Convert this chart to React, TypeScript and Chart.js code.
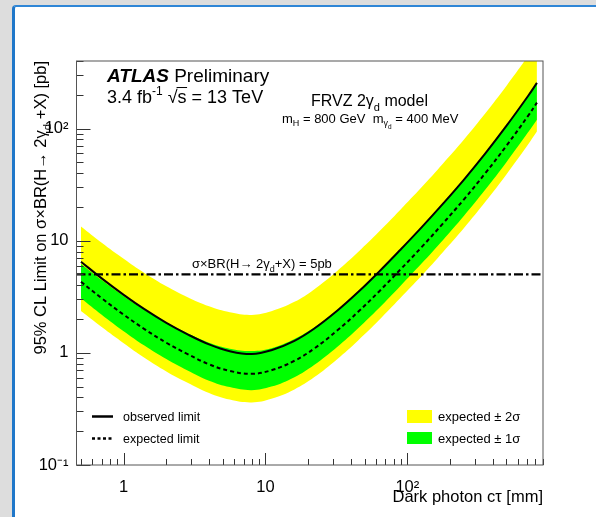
import React, { useEffect, useRef } from "react";
import { Chart, registerables } from "chart.js";
Chart.register(...registerables);

// ---- data ----
const ctau = [0.5, 0.7, 1, 1.4, 2, 2.8, 4, 5.6, 8, 11, 16, 22, 32, 45, 63, 89, 126, 178, 251, 355, 501, 708, 820];
const observed = [6.5, 4.61, 3.29, 2.45, 1.85, 1.47, 1.19, 1.035, 0.975, 1.055, 1.28, 1.64, 2.37, 3.48, 5.27, 8.26, 13.15, 21.3, 35.1, 60.0, 106, 194, 255];
const expected = [4.3, 3.07, 2.19, 1.63, 1.23, 0.98, 0.79, 0.69, 0.65, 0.7, 0.85, 1.09, 1.58, 2.32, 3.51, 5.5, 8.75, 14.2, 23.4, 40, 70.5, 129, 170];
const sigma1Low = [3.07, 2.19, 1.56, 1.16, 0.88, 0.7, 0.565, 0.495, 0.465, 0.5, 0.607, 0.78, 1.13, 1.66, 2.5, 3.93, 6.25, 10.1, 16.7, 28.6, 50.4, 92, 120];
const sigma1High = [6.2, 4.45, 3.2, 2.42, 1.86, 1.5, 1.23, 1.09, 1.04, 1.1, 1.33, 1.68, 2.4, 3.5, 5.3, 8.3, 13.2, 21.4, 35.2, 60.2, 106, 194, 256];
const sigma2Low = [2.36, 1.7, 1.22, 0.905, 0.683, 0.544, 0.439, 0.383, 0.361, 0.389, 0.472, 0.605, 0.878, 1.29, 1.95, 3.06, 4.86, 7.9, 13, 22.2, 39.2, 71.7, 94];
const sigma2High = [13.4, 9.6, 6.9, 5.15, 3.92, 3.15, 2.6, 2.3, 2.18, 2.35, 2.85, 3.68, 5.38, 7.93, 12, 18.8, 29.9, 48.6, 80, 137, 241, 441, 580];
const refXsec = 5; // pb

const xRange = [0.465, 905];
const yRange = [0.1, 400];
const xTicks = [0.5, 0.6, 0.7, 0.8, 0.9, 1, 2, 3, 4, 5, 6, 7, 8, 9, 10, 20, 30, 40, 50, 60, 70, 80, 90, 100, 200, 300, 400, 500, 600, 700, 800, 900];
const yTicks = [0.1, 0.2, 0.3, 0.4, 0.5, 0.6, 0.7, 0.8, 0.9, 1, 2, 3, 4, 5, 6, 7, 8, 9, 10, 20, 30, 40, 50, 60, 70, 80, 90, 100, 200, 300, 400];
const xMajor = [1, 10, 100];
const xMajorLabels = ["1", "10", "10\u00B2"];
const yMajor = [0.1, 1, 10, 100];
const yMajorLabels = ["10\u207B\u00B9", "1", "10", "10\u00B2"];

const FAMILY = '"Liberation Sans", Arial, Helvetica, sans-serif';
const YELLOW = "#ffff00";
const GREEN = "#00ff00";

const near = (a: number, b: number) => Math.abs(Math.log10(a) - Math.log10(b)) < 1e-6;
const majorIndex = (v: number, list: number[]) => list.findIndex((m) => near(m, v));
const pts = (ys: number[]) => ctau.map((x, i) => ({ x, y: ys[i] }));

type Part = { t: string; size: number; dy?: number; weight?: string; style?: string; overline?: boolean };

function drawParts(ctx: CanvasRenderingContext2D, parts: Part[], x: number, y: number, align: "left" | "right" | "center") {
  const fontOf = (p: Part) => `${p.style || "normal"} ${p.weight || "normal"} ${p.size}px ${FAMILY}`;
  const widths = parts.map((p) => {
    ctx.font = fontOf(p);
    return ctx.measureText(p.t).width;
  });
  const total = widths.reduce((a, b) => a + b, 0);
  let cx = align === "left" ? x : align === "right" ? x - total : x - total / 2;
  ctx.textAlign = "left";
  ctx.textBaseline = "alphabetic";
  parts.forEach((p, i) => {
    ctx.font = fontOf(p);
    ctx.fillText(p.t, cx, y + (p.dy || 0));
    if (p.overline) {
      ctx.save();
      ctx.lineWidth = 1;
      ctx.beginPath();
      const oy = y + (p.dy || 0) - p.size * 0.86;
      ctx.moveTo(cx - 1, oy);
      ctx.lineTo(cx + widths[i] + 0.5, oy);
      ctx.stroke();
      ctx.restore();
    }
    cx += widths[i];
  });
}

const decor = {
  id: "decor",
  afterDraw(chart: any) {
    const { ctx, chartArea } = chart;
    const { left, right, top, bottom } = chartArea;
    const xs = chart.scales.x;
    const ys = chart.scales.y;
    ctx.save();
    // ticks
    ctx.strokeStyle = "#333";
    ctx.lineWidth = 1;
    ctx.beginPath();
    xs.ticks.forEach((t: any) => {
      const px = Math.round(xs.getPixelForValue(t.value)) + 0.5;
      const len = majorIndex(t.value, xMajor) >= 0 ? 12 : 6;
      ctx.moveTo(px, bottom);
      ctx.lineTo(px, bottom - len);
    });
    ys.ticks.forEach((t: any) => {
      const py = Math.round(ys.getPixelForValue(t.value)) + 0.5;
      const len = majorIndex(t.value, yMajor) >= 0 ? 14 : 7;
      ctx.moveTo(left, py);
      ctx.lineTo(left + len, py);
    });
    ctx.stroke();
    // frame
    ctx.strokeStyle = "#555";
    ctx.strokeRect(left, top, right - left, bottom - top);

    ctx.fillStyle = "#000";
    ctx.strokeStyle = "#000";
    // axis titles
    drawParts(ctx, [{ t: "Dark photon c\u03C4 [mm]", size: 16.5 }], right, 502, "right");
    ctx.save();
    ctx.translate(45.5, top);
    ctx.rotate(-Math.PI / 2);
    drawParts(
      ctx,
      [
        { t: "95% CL Limit on \u03C3\u00D7BR(H\u2192 2\u03B3", size: 16.5 },
        { t: "d", size: 11.5, dy: 5 },
        { t: " +X) [pb]", size: 16.5 },
      ],
      0,
      0,
      "right"
    );
    ctx.restore();

    // ATLAS labels
    drawParts(
      ctx,
      [
        { t: "ATLAS", size: 19, weight: "bold", style: "italic" },
        { t: " Preliminary", size: 19 },
      ],
      107,
      82,
      "left"
    );
    drawParts(
      ctx,
      [
        { t: "3.4 fb", size: 18 },
        { t: "-1", size: 12, dy: -8 },
        { t: " \u221A", size: 18 },
        { t: "s", size: 18, overline: true },
        { t: " = 13 TeV", size: 18 },
      ],
      107,
      103,
      "left"
    );
    drawParts(
      ctx,
      [
        { t: "FRVZ 2\u03B3", size: 16 },
        { t: "d", size: 11, dy: 5 },
        { t: " model", size: 16 },
      ],
      311,
      106,
      "left"
    );
    drawParts(
      ctx,
      [
        { t: "m", size: 13 },
        { t: "H", size: 9, dy: 3 },
        { t: " = 800 GeV  m", size: 13 },
        { t: "\u03B3", size: 9, dy: 3 },
        { t: "d", size: 6.5, dy: 6 },
        { t: " = 400 MeV", size: 13 },
      ],
      282,
      123,
      "left"
    );
    drawParts(
      ctx,
      [
        { t: "\u03C3\u00D7BR(H\u2192 2\u03B3", size: 13 },
        { t: "d", size: 9, dy: 4 },
        { t: "+X) = 5pb", size: 13 },
      ],
      192,
      268,
      "left"
    );

    // legend
    ctx.lineWidth = 2.5;
    ctx.beginPath();
    ctx.moveTo(92, 416.5);
    ctx.lineTo(113, 416.5);
    ctx.stroke();
    ctx.setLineDash([3, 2.5]);
    ctx.beginPath();
    ctx.moveTo(92, 438.5);
    ctx.lineTo(113, 438.5);
    ctx.stroke();
    ctx.setLineDash([]);
    drawParts(ctx, [{ t: "observed limit", size: 12.5 }], 123, 421, "left");
    drawParts(ctx, [{ t: "expected limit", size: 12.5 }], 123, 443, "left");
    ctx.fillStyle = YELLOW;
    ctx.fillRect(407, 410, 25, 13);
    ctx.fillStyle = GREEN;
    ctx.fillRect(407, 432, 25, 12);
    ctx.fillStyle = "#000";
    drawParts(ctx, [{ t: "expected \u00B1 2\u03C3", size: 13 }], 438, 421, "left");
    drawParts(ctx, [{ t: "expected \u00B1 1\u03C3", size: 13 }], 438, 443, "left");
    ctx.restore();
  },
};

export default function App() {
  const ref = useRef<HTMLCanvasElement | null>(null);
  useEffect(() => {
    if (!ref.current) return;
    const band = { pointRadius: 0, borderWidth: 0, borderColor: "rgba(0,0,0,0)", tension: 0.4 };
    const chart = new Chart(ref.current, {
      type: "line",
      data: {
        datasets: [
          { ...band, label: "2s high", data: pts(sigma2High), fill: "+1", backgroundColor: YELLOW, order: 10 },
          { ...band, label: "2s low", data: pts(sigma2Low), fill: false, order: 10 },
          { ...band, label: "1s high", data: pts(sigma1High), fill: "+1", backgroundColor: GREEN, order: 8 },
          { ...band, label: "1s low", data: pts(sigma1Low), fill: false, order: 8 },
          {
            label: "expected limit",
            data: pts(expected),
            borderColor: "#000",
            borderWidth: 2,
            borderDash: [4, 3],
            pointRadius: 0,
            tension: 0.4,
            fill: false,
            order: 4,
          },
          {
            label: "5pb",
            data: [
              { x: xRange[0], y: refXsec },
              { x: xRange[1], y: refXsec },
            ],
            borderColor: "#000",
            borderWidth: 2.2,
            borderDash: [9, 3, 2.5, 3],
            pointRadius: 0,
            fill: false,
            order: 3,
          },
          {
            label: "observed limit",
            data: pts(observed),
            borderColor: "#000",
            borderWidth: 2,
            pointRadius: 0,
            tension: 0.4,
            fill: false,
            order: 2,
          },
        ],
      },
      options: {
        responsive: false,
        animation: false,
        devicePixelRatio: 1,
        layout: { padding: { top: 61, right: 53, left: 0, bottom: 0 } },
        plugins: { legend: { display: false }, tooltip: { enabled: false }, title: { display: false } },
        scales: {
          x: {
            type: "logarithmic",
            min: xRange[0],
            max: xRange[1],
            grid: { display: false, drawTicks: false },
            border: { display: false },
            ticks: {
              autoSkip: false,
              maxRotation: 0,
              minRotation: 0,
              padding: 13,
              color: "#000",
              font: { family: FAMILY, size: 16.5 },
              callback: (v: any) => {
                const i = majorIndex(Number(v), xMajor);
                return i >= 0 ? xMajorLabels[i] : "";
              },
            },
            afterBuildTicks: (s: any) => {
              s.ticks = xTicks.map((value) => ({ value }));
            },
            afterFit: (s: any) => {
              s.height = 52;
            },
          },
          y: {
            type: "logarithmic",
            min: yRange[0],
            max: yRange[1],
            grid: { display: false, drawTicks: false },
            border: { display: false },
            ticks: {
              autoSkip: false,
              padding: 8,
              color: "#000",
              font: { family: FAMILY, size: 16.5 },
              callback: (v: any) => {
                const i = majorIndex(Number(v), yMajor);
                return i >= 0 ? yMajorLabels[i] : "";
              },
            },
            afterBuildTicks: (s: any) => {
              s.ticks = yTicks.map((value) => ({ value }));
            },
            afterFit: (s: any) => {
              s.width = 76.5;
            },
          },
        },
      } as any,
      plugins: [decor],
    });
    return () => chart.destroy();
  }, []);

  return (
    <div style={{ position: "fixed", left: 0, top: 0, width: 596, height: 517, background: "#dddddd", overflow: "hidden" }}>
      <div
        style={{
          position: "absolute",
          left: 12,
          top: 5,
          width: 700,
          height: 700,
          background: "#fff",
          borderLeft: "3px solid #1f77c9",
          borderTop: "2px solid #2f86d6",
          borderTopLeftRadius: 4,
        }}
      />
      <canvas ref={ref} width={596} height={517} style={{ position: "absolute", left: 0, top: 0, width: 596, height: 517 }} />
    </div>
  );
}
